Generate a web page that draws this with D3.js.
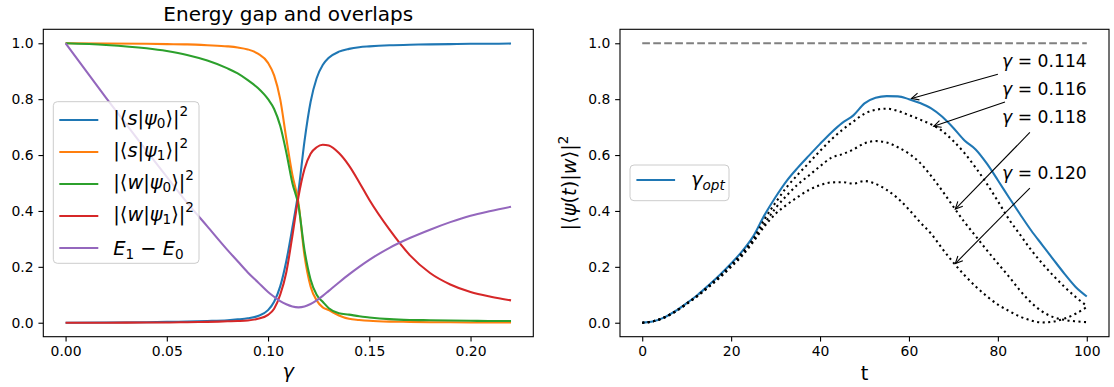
<!DOCTYPE html>
<html>
<head>
<meta charset="utf-8">
<title>Energy gap and overlaps</title>
<script src="https://cdn.jsdelivr.net/npm/d3@7"></script>
<style>
body { margin: 0; background: #fff; }
svg text { font-family: "DejaVu Sans", sans-serif; }
</style>
</head>
<body>
<script>
// ---- left panel: overlaps and gap vs gamma ----
var gammaVals = [0, 0.02, 0.04, 0.05, 0.06, 0.07, 0.08, 0.085, 0.09, 0.095,
  0.1, 0.103, 0.106, 0.109, 0.112, 0.115, 0.118, 0.121, 0.124, 0.127,
  0.13, 0.135, 0.14, 0.145, 0.15, 0.16, 0.17, 0.18, 0.19, 0.2, 0.21, 0.22];
var sPsi0 = [0, 0.001, 0.002, 0.003, 0.004, 0.006, 0.009, 0.012, 0.016, 0.024,
  0.045, 0.075, 0.13, 0.22, 0.34, 0.47, 0.65, 0.79, 0.875, 0.922,
  0.948, 0.97, 0.98, 0.986, 0.989, 0.993, 0.995, 0.996, 0.997, 0.998, 0.998, 0.999];
var sPsi1 = [1, 0.999, 0.998, 0.997, 0.996, 0.993, 0.989, 0.985, 0.978, 0.963,
  0.93, 0.885, 0.8, 0.66, 0.53, 0.43, 0.24, 0.13, 0.08, 0.055,
  0.045, 0.026, 0.014, 0.01, 0.007, 0.004, 0.003, 0.002, 0.0015, 0.001, 0.001, 0.001];
var wPsi0 = [1, 0.994, 0.982, 0.972, 0.958, 0.938, 0.91, 0.892, 0.868, 0.84,
  0.8, 0.765, 0.705, 0.61, 0.5, 0.42, 0.26, 0.155, 0.1, 0.075,
  0.052, 0.034, 0.029, 0.023, 0.019, 0.013, 0.01, 0.009, 0.008, 0.007, 0.006, 0.006];
var wPsi1 = [0, 0, 0.001, 0.001, 0.002, 0.003, 0.005, 0.006, 0.008, 0.014,
  0.028, 0.05, 0.1, 0.18, 0.31, 0.45, 0.55, 0.605, 0.628, 0.637,
  0.634, 0.607, 0.562, 0.503, 0.44, 0.333, 0.242, 0.178, 0.137, 0.11, 0.093, 0.08];
var gapVals = [1.0, 0.805, 0.615, 0.522, 0.43, 0.345, 0.26, 0.22, 0.18, 0.145,
  0.11, 0.093, 0.077, 0.066, 0.058, 0.055, 0.058, 0.067, 0.08, 0.096,
  0.114, 0.144, 0.173, 0.2, 0.225, 0.268, 0.303, 0.333, 0.36, 0.383, 0.4, 0.415];
var leftLabels = ["|⟨{s}|{ψ}_0⟩|^2", "|⟨{s}|{ψ}_1⟩|^2", "|⟨{w}|{ψ}_0⟩|^2",
  "|⟨{w}|{ψ}_1⟩|^2", "{E}_1 − {E}_0"];
var leftXTicks = [0, 0.05, 0.1, 0.15, 0.2];

// ---- right panel: |<psi(t)|w>|^2 vs t ----
var tVals = [0, 2.5, 5, 7.5, 10, 12.5, 15, 17.5, 20, 22.5, 25, 27.5, 30, 32.5, 35,
  37.5, 40, 42.5, 45, 47.5, 50, 52.5, 55, 57.5, 60, 62.5, 65, 67.5, 70, 72.5,
  75, 77.5, 80, 82.5, 85, 87.5, 90, 92.5, 95, 97.5, 100];
var optVals = [0, 0.005, 0.019, 0.042, 0.07, 0.1, 0.135, 0.172, 0.212, 0.256,
  0.31, 0.385, 0.45, 0.508, 0.555, 0.598, 0.64, 0.68, 0.715, 0.742,
  0.785, 0.805, 0.811, 0.81, 0.8, 0.786, 0.767, 0.737, 0.697, 0.652,
  0.62, 0.57, 0.51, 0.448, 0.388, 0.33, 0.278, 0.226, 0.175, 0.128, 0.094];
var g116 = [0, 0.005, 0.019, 0.041, 0.069, 0.098, 0.132, 0.168, 0.207, 0.25,
  0.3, 0.37, 0.43, 0.485, 0.53, 0.572, 0.615, 0.655, 0.69, 0.72,
  0.748, 0.762, 0.766, 0.758, 0.743, 0.727, 0.71, 0.686, 0.65, 0.607,
  0.555, 0.498, 0.435, 0.37, 0.315, 0.26, 0.212, 0.168, 0.128, 0.092, 0.06];
var g118 = [0, 0.005, 0.019, 0.041, 0.068, 0.097, 0.13, 0.165, 0.204, 0.245,
  0.295, 0.355, 0.41, 0.455, 0.495, 0.527, 0.56, 0.59, 0.603, 0.62,
  0.642, 0.65, 0.645, 0.628, 0.605, 0.572, 0.525, 0.472, 0.415, 0.36,
  0.31, 0.26, 0.212, 0.165, 0.115, 0.072, 0.04, 0.02, 0.01, 0.005, 0.002];
var g120 = [0, 0.005, 0.019, 0.04, 0.067, 0.096, 0.128, 0.162, 0.2, 0.24,
  0.29, 0.345, 0.39, 0.422, 0.45, 0.475, 0.492, 0.502, 0.503, 0.498,
  0.507, 0.497, 0.475, 0.445, 0.405, 0.36, 0.318, 0.265, 0.215, 0.17,
  0.13, 0.095, 0.065, 0.042, 0.022, 0.008, 0.001, 0.004, 0.015, 0.032, 0.056];
var rightXTicks = [0, 20, 40, 60, 80, 100];
var yTicks = [0, 0.2, 0.4, 0.6, 0.8, 1.0];

// annotations: label, point on curve, arrow tail, text anchor (right end, baseline)
var annLabels = ["{γ} = 0.114", "{γ} = 0.116", "{γ} = 0.118", "{γ} = 0.120"];
var annPoints = [[60, 0.80], [65, 0.70], [70, 0.40], [70, 0.205]];
var annTails = [[80, 0.889], [81.6, 0.79], [87.2, 0.681], [87.2, 0.482]];
var annTexts = [[100, 0.916], [100, 0.815], [100, 0.715], [100, 0.516]];

var colors = ["#1f77b4", "#ff7f0e", "#2ca02c", "#d62728", "#9467bd"];
var tickFont = 13.9, bigFont = 19.4, titleFont = 20, annFont = 17.2;

var svg = d3.select("body").append("svg").attr("width", 1114).attr("height", 387);

// simple math-ish label: {x} italic, _c subscript, ^c superscript
function mathText(t, str, size) {
  var cur = 0, i = 0;
  while (i < str.length) {
    var ch = str[i], italic = false, shift = 0, fs = size, txt, j;
    if (ch === "{") {
      j = str.indexOf("}", i); txt = str.slice(i + 1, j); italic = true; i = j + 1;
    } else if (ch === "_" || ch === "^") {
      shift = ch === "_" ? 0.2 * size : -0.42 * size; fs = 0.7 * size;
      if (str[i + 1] === "{") { j = str.indexOf("}", i); txt = str.slice(i + 2, j); italic = true; i = j + 1; }
      else { txt = str[i + 1]; i += 2; }
    } else {
      j = i; while (j < str.length && "{_^".indexOf(str[j]) < 0) j++;
      txt = str.slice(i, j); i = j;
    }
    t.append("tspan").attr("dy", shift - cur).attr("font-size", fs)
      .attr("font-style", italic ? "italic" : "normal").text(txt);
    cur = shift;
  }
}

function panel(box, xDomain, xTicks, xFmt) {
  var x = d3.scaleLinear().domain(xDomain).range([box.x0, box.x1]);
  var y = d3.scaleLinear().domain([-0.05, 1.05]).range([box.y1, box.y0]);
  var ax = svg.append("g").attr("transform", "translate(0," + box.y1 + ")")
    .call(d3.axisBottom(x).tickValues(xTicks).tickFormat(xFmt).tickSize(4.86).tickPadding(4.86));
  var ay = svg.append("g").attr("transform", "translate(" + box.x0 + ",0)")
    .call(d3.axisLeft(y).tickValues(yTicks).tickFormat(d3.format(".1f")).tickSize(4.86).tickPadding(4.86));
  [ax, ay].forEach(function(a) {
    a.select(".domain").remove();
    a.selectAll("line").attr("stroke", "#000").attr("stroke-width", 1.1);
    a.selectAll("text").attr("font-family", "DejaVu Sans").attr("font-size", tickFont).attr("fill", "#000");
  });
  return {x: x, y: y};
}

function spines(box) {
  svg.append("rect").attr("x", box.x0).attr("y", box.y0)
    .attr("width", box.x1 - box.x0).attr("height", box.y1 - box.y0)
    .attr("fill", "none").attr("stroke", "#000").attr("stroke-width", 1.1);
}

// ---------- left ----------
var lbox = {x0: 43.3, x1: 533.3, y0: 29.3, y1: 336.7};
var L = panel(lbox, [-0.011, 0.231], leftXTicks, d3.format(".2f"));
var lineL = d3.line().x(function(d) { return L.x(d[0]); }).y(function(d) { return L.y(d[1]); })
  .curve(d3.curveMonotoneX);
[sPsi0, sPsi1, wPsi0, wPsi1, gapVals].forEach(function(s, k) {
  svg.append("path").datum(gammaVals.map(function(g, i) { return [g, s[i]]; }))
    .attr("d", lineL).attr("fill", "none").attr("stroke", colors[k]).attr("stroke-width", 2.08);
});
spines(lbox);

svg.append("text").attr("x", (lbox.x0 + lbox.x1) / 2).attr("y", 21)
  .attr("text-anchor", "middle").attr("font-size", titleFont).text("Energy gap and overlaps");
svg.append("text").attr("x", (lbox.x0 + lbox.x1) / 2).attr("y", 378)
  .attr("text-anchor", "middle").attr("font-size", bigFont).attr("font-style", "italic").text("γ");

// legend left
var lg = svg.append("g");
lg.append("rect").attr("x", 53.3).attr("y", 101.7).attr("width", 145.7).attr("height", 161.6)
  .attr("rx", 4).attr("fill", "#fff").attr("fill-opacity", 0.8).attr("stroke", "#ccc");
leftLabels.forEach(function(lab, k) {
  var ry = 120 + k * 32;
  lg.append("line").attr("x1", 59.3).attr("x2", 98.3).attr("y1", ry).attr("y2", ry)
    .attr("stroke", colors[k]).attr("stroke-width", 2.08);
  var t = lg.append("text").attr("x", 113.3).attr("y", ry + (k === 4 ? 7 : 4.6)).attr("font-size", bigFont);
  mathText(t, lab, bigFont);
});

// ---------- right ----------
var rbox = {x0: 620, x1: 1109, y0: 29.3, y1: 336.7};
var R = panel(rbox, [-5, 105], rightXTicks, d3.format("d"));
var lineR = d3.line().x(function(d) { return R.x(d[0]); }).y(function(d) { return R.y(d[1]); })
  .curve(d3.curveMonotoneX);

svg.append("line").attr("x1", R.x(0)).attr("x2", R.x(100)).attr("y1", R.y(1)).attr("y2", R.y(1))
  .attr("stroke", "#808080").attr("stroke-width", 2.08).attr("stroke-dasharray", "7.7,3.3");

svg.append("path").datum(tVals.map(function(t, i) { return [t, optVals[i]]; }))
  .attr("d", lineR).attr("fill", "none").attr("stroke", colors[0]).attr("stroke-width", 2.08);
[g116, g118, g120].forEach(function(s) {
  svg.append("path").datum(tVals.map(function(t, i) { return [t, s[i]]; }))
    .attr("d", lineR).attr("fill", "none").attr("stroke", "#000").attr("stroke-width", 2.08)
    .attr("stroke-dasharray", "2.08,3.44");
});
spines(rbox);

// annotations
annLabels.forEach(function(lab, k) {
  var hx = R.x(annPoints[k][0]), hy = R.y(annPoints[k][1]);
  var tx = R.x(annTails[k][0]), ty = R.y(annTails[k][1]);
  var a = Math.atan2(ty - hy, tx - hx);
  // pull the tip back a little, like matplotlib's shrink
  hx += 2.7 * Math.cos(a); hy += 2.7 * Math.sin(a);
  svg.append("line").attr("x1", tx).attr("y1", ty).attr("x2", hx).attr("y2", hy)
    .attr("stroke", "#000").attr("stroke-width", 1.1);
  var hl = 8, hw = 0.45;
  svg.append("path")
    .attr("d", "M" + (hx + hl * Math.cos(a + hw)) + "," + (hy + hl * Math.sin(a + hw)) +
      "L" + hx + "," + hy + "L" + (hx + hl * Math.cos(a - hw)) + "," + (hy + hl * Math.sin(a - hw)))
    .attr("fill", "none").attr("stroke", "#000").attr("stroke-width", 1.1);
  var t = svg.append("text").attr("x", R.x(annTexts[k][0])).attr("y", R.y(annTexts[k][1]))
    .attr("text-anchor", "end").attr("font-size", annFont);
  mathText(t, lab, annFont);
});

svg.append("text").attr("x", (rbox.x0 + rbox.x1) / 2).attr("y", 380)
  .attr("text-anchor", "middle").attr("font-size", bigFont).text("t");
var yl = svg.append("text").attr("transform", "translate(576," + ((rbox.y0 + rbox.y1) / 2) + ") rotate(-90)")
  .attr("text-anchor", "middle").attr("font-size", bigFont);
mathText(yl, "|⟨{ψ}({t})|{w}⟩|^2", bigFont);

// legend right
var rg = svg.append("g");
rg.append("rect").attr("x", 630).attr("y", 165).attr("width", 99).attr("height", 35.7)
  .attr("rx", 4).attr("fill", "#fff").attr("fill-opacity", 0.8).attr("stroke", "#ccc");
rg.append("line").attr("x1", 636.4).attr("x2", 675.1).attr("y1", 180).attr("y2", 180)
  .attr("stroke", colors[0]).attr("stroke-width", 2.08);
var rt = rg.append("text").attr("x", 691).attr("y", 186).attr("font-size", bigFont);
mathText(rt, "{γ}_{opt}", bigFont);
</script>
</body>
</html>
